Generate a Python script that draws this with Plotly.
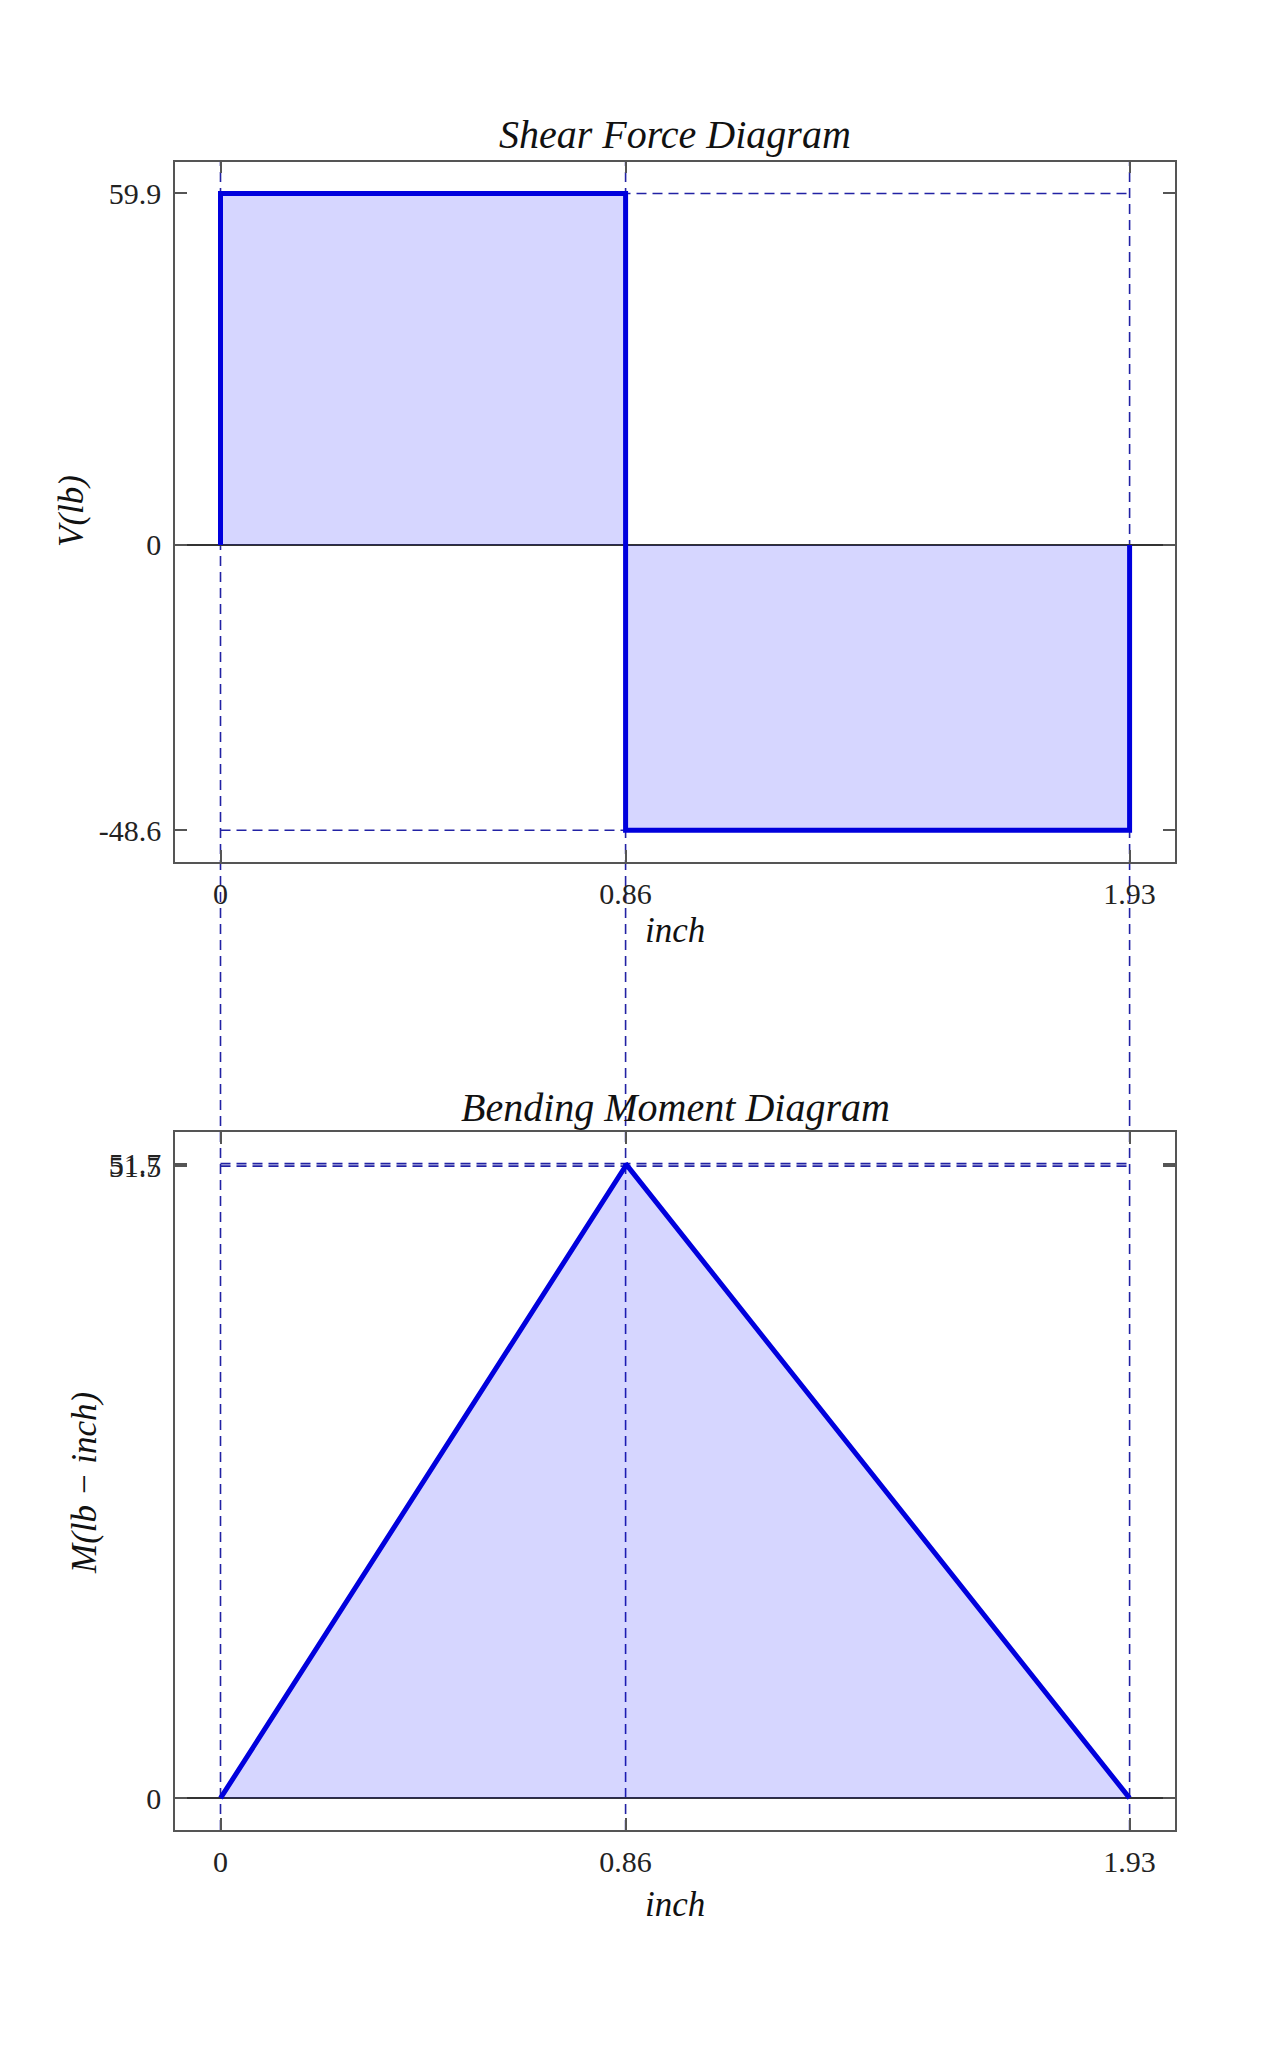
import plotly.graph_objects as go
from plotly.subplots import make_subplots

# beam data
shear_x = [0, 0, 0.86, 0.86, 1.93, 1.93]
shear_v = [0, 59.9, 59.9, -48.6, -48.6, 0]
moment_x = [0, 0.86, 0.86, 1.93]
moment_m = [0, 51.5, 51.7, 0]

x_ticks = [0, 0.86, 1.93]
x_ticktext = ["0", "0.86", "1.93"]
shear_ticks = [-48.6, 0, 59.9]
shear_ticktext = ["-48.6", "0", "59.9"]
moment_ticks = [0, 51.5, 51.7]
moment_ticktext = ["0", "51.5", "51.7"]

FONT = "Liberation Serif"
BLUE = "#0000dd"
FILL = "rgba(0,0,255,0.16)"
DASH = "#2222a4"

fig = make_subplots(rows=2, cols=1)

fig.add_trace(
    go.Scatter(x=shear_x, y=shear_v, mode="lines", fill="tozeroy",
               fillcolor=FILL, line=dict(color=BLUE, width=5)),
    row=1, col=1
)
fig.add_trace(
    go.Scatter(x=moment_x, y=moment_m, mode="lines", fill="tozeroy",
               fillcolor=FILL, line=dict(color=BLUE, width=5)),
    row=2, col=1
)

top_dom = [0.583, 0.925]
bot_dom = [0.1104, 0.4512]

# vertical dashed lines through both diagrams
for xv in x_ticks:
    fig.add_shape(type="line", xref="x", yref="paper", x0=xv, x1=xv,
                  y0=bot_dom[0], y1=top_dom[1], layer="below",
                  line=dict(color=DASH, width=1.6, dash="10px,6px"))

# horizontal dashed lines at extreme values
for yv in [59.9, -48.6]:
    fig.add_shape(type="line", xref="x", yref="y", x0=0, x1=1.93, y0=yv, y1=yv,
                  layer="below", line=dict(color=DASH, width=1.6, dash="10px,6px"))
for yv in [51.5, 51.7, 0]:
    fig.add_shape(type="line", xref="x2", yref="y2", x0=0, x1=1.93, y0=yv, y1=yv,
                  layer="below", line=dict(color=DASH, width=1.6, dash="10px,6px"))

axis_common = dict(showline=True, mirror="ticks", linecolor="#555555", linewidth=1.5,
                   ticks="inside", ticklen=12, tickwidth=1.5, tickcolor="#555555",
                   showgrid=False, tickfont=dict(family=FONT, size=30, color="#222222"))

fig.update_xaxes(axis_common, range=[-0.0965, 2.0265], tickvals=x_ticks,
                 ticktext=x_ticktext, zeroline=False, domain=[0.1299, 0.9075],
                 ticklabelstandoff=4)
fig.update_yaxes(axis_common, zeroline=True, zerolinecolor="#333333",
                 zerolinewidth=1.5, ticklabelstandoff=6)
fig.update_yaxes(range=[-54.025, 65.325], tickvals=shear_ticks,
                 ticktext=shear_ticktext, domain=top_dom, row=1, col=1)
fig.update_yaxes(range=[-2.585, 54.285], tickvals=moment_ticks,
                 ticktext=moment_ticktext, domain=bot_dom, row=2, col=1)

title_font = dict(family=FONT, size=40, color="#111111")
label_font = dict(family=FONT, size=35, color="#111111")
notes = [
    dict(text="<i>Shear Force Diagram</i>", x=0.5187, y=1 - 126 / 2048, font=title_font),
    dict(text="<i>Bending Moment Diagram</i>", x=0.5187, y=1 - 1099 / 2048, font=title_font),
    dict(text="<i>inch</i>", x=0.5187, y=1 - 922 / 2048, font=label_font),
    dict(text="<i>inch</i>", x=0.5187, y=1 - 1896 / 2048, font=label_font),
    dict(text="<i>V(lb)</i>", x=63 / 1286, y=1 - 503 / 2048, font=label_font, textangle=-90),
    dict(text="<i>M(lb − inch)</i>", x=76 / 1286, y=1 - 1475 / 2048, font=label_font, textangle=-90),
]
for n in notes:
    fig.add_annotation(xref="paper", yref="paper", showarrow=False,
                       xanchor="center", yanchor="middle", **n)

fig.update_layout(width=1286, height=2048, margin=dict(l=0, r=0, t=0, b=0),
                  paper_bgcolor="white", plot_bgcolor="white", showlegend=False)

fig.write_html("out.html")
